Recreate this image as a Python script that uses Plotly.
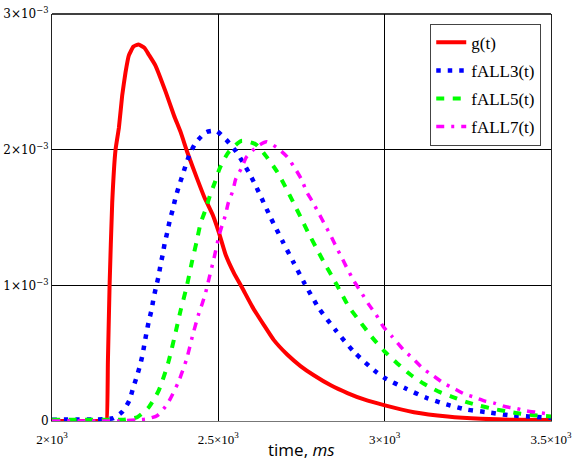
import plotly.graph_objects as go

# ---- data (values in units of 1e-3) ----
t_g = [2000, 2100, 2160, 2164, 2168, 2173, 2181, 2191, 2201, 2211, 2221, 2231, 2245, 2260,
       2278, 2291, 2311, 2342, 2367, 2387, 2407, 2437, 2457, 2483, 2502, 2522, 2547, 2572,
       2602, 2637, 2667, 2707, 2747, 2787, 2838, 2888, 2938, 2998, 3088, 3189, 3289, 3389, 3500]
v_g = [0, 0, 0, 0, 0.43, 0.99, 1.61, 2.0, 2.16, 2.40, 2.57, 2.695, 2.76, 2.776,
       2.75, 2.70, 2.62, 2.424, 2.25, 2.127, 1.979, 1.781, 1.655, 1.52, 1.387, 1.225, 1.09, 0.98,
       0.843, 0.707, 0.596, 0.49, 0.405, 0.337, 0.263, 0.206, 0.159, 0.117, 0.065, 0.033, 0.016, 0.009, 0.008]

t_f3 = [2000, 2124, 2154, 2184, 2212, 2233, 2243, 2254, 2264, 2272, 2278, 2284, 2291, 2299, 2305,
        2312, 2320, 2326, 2333, 2339, 2347, 2354, 2363, 2371, 2381, 2392, 2403, 2415, 2433, 2464,
        2493, 2524, 2552, 2573, 2593, 2611, 2628, 2658, 2692, 2726, 2760, 2802, 2853, 2909, 2970,
        3000, 3062, 3124, 3186, 3247, 3311, 3372, 3433, 3500]
v_f3 = [0.01, 0.011, 0.013, 0.021, 0.07, 0.154, 0.237, 0.321, 0.404, 0.486, 0.569, 0.65, 0.735, 0.817, 0.9,
        0.98, 1.063, 1.147, 1.23, 1.313, 1.396, 1.478, 1.559, 1.643, 1.727, 1.809, 1.893, 1.974, 2.054, 2.13,
        2.139, 2.072, 1.991, 1.91, 1.826, 1.741, 1.653, 1.496, 1.33, 1.169, 1.01, 0.832, 0.668, 0.506, 0.37,
        0.317, 0.241, 0.172, 0.122, 0.084, 0.064, 0.043, 0.033, 0.024]

t_f5 = [2000, 2176, 2216, 2256, 2291, 2321, 2350, 2372, 2387, 2405, 2420, 2435, 2447, 2462, 2474, 2490,
        2505, 2530, 2569, 2612, 2647, 2677, 2702, 2725, 2747, 2769, 2793, 2817, 2843, 2868, 2893,
        2926, 2961, 2998, 3038, 3078, 3118, 3160, 3201, 3244, 3284, 3327, 3369, 3409, 3449, 3500]
v_f5 = [0.01, 0.01, 0.01, 0.028, 0.102, 0.226, 0.435, 0.658, 0.819, 0.991, 1.165, 1.325, 1.46, 1.56, 1.655, 1.762,
        1.868, 1.979, 2.064, 2.04, 1.941, 1.836, 1.724, 1.613, 1.505, 1.394, 1.283, 1.172, 1.061, 0.95, 0.839,
        0.732, 0.62, 0.517, 0.424, 0.341, 0.274, 0.219, 0.18, 0.141, 0.114, 0.089, 0.07, 0.053, 0.043, 0.034]

t_f7 = [2000, 2136, 2196, 2256, 2287, 2317, 2347, 2380, 2405, 2422, 2442, 2452, 2462, 2472, 2487, 2502,
        2512, 2522, 2529, 2544, 2552, 2569, 2585, 2617, 2645, 2679, 2707, 2732, 2750, 2766, 2784, 2804,
        2820, 2840, 2853, 2873, 2888, 2908, 2928, 2953, 2973, 2996, 3023, 3056, 3083, 3116, 3145, 3178,
        3207, 3239, 3268, 3302, 3329, 3364, 3391, 3426, 3454, 3500]
v_f7 = [0.0, 0.0, 0.0, 0.009, 0.016, 0.041, 0.127, 0.287, 0.459, 0.624, 0.798, 0.868, 0.948, 1.05, 1.2, 1.366,
        1.448, 1.522, 1.6, 1.70, 1.781, 1.861, 1.947, 2.024, 2.058, 2.009, 1.947, 1.856, 1.781, 1.687, 1.613, 1.522,
        1.448, 1.356, 1.29, 1.195, 1.121, 1.03, 0.954, 0.856, 0.789, 0.695, 0.62, 0.526, 0.465, 0.385, 0.335, 0.278,
        0.241, 0.2, 0.177, 0.147, 0.132, 0.105, 0.095, 0.075, 0.065, 0.05]

names = ["g(t)", "fALL3(t)", "fALL5(t)", "fALL7(t)"]

x_ticks = [2000, 2500, 3000, 3500]
x_ticktext = ["2×10<sup>3</sup>", "2.5×10<sup>3</sup>", "3×10<sup>3</sup>", "3.5×10<sup>3</sup>"]
y_ticks = [0, 1e-3, 2e-3, 3e-3]
y_ticktext = ["0", "1×10<sup>−3</sup>", "2×10<sup>−3</sup>", "3×10<sup>−3</sup>"]

scale = 1e-3

fig = go.Figure()
series = [
    (t_g, v_g, "#FF0000", 4, "solid", 0.4),
    (t_f3, v_f3, "#0000FF", 4.5, "4.5px,7px", 0.6),
    (t_f5, v_f5, "#00FF00", 4, "8px,8.5px", 0.6),
    (t_f7, v_f7, "#FF00FF", 3.5, "8px,7px,3px,7px", 0.6),
]
for i, (tt, vv, col, w, dash, sm) in enumerate(series):
    fig.add_trace(go.Scatter(
        x=tt, y=[v * scale for v in vv], mode="lines", name=names[i],
        legendgroup=names[i],
        line=dict(color=col, width=w, dash=dash, shape="spline", smoothing=sm),
    ))

fig.update_layout(
    width=574, height=461,
    margin=dict(l=52, r=23, t=14, b=40, autoexpand=False),
    paper_bgcolor="white", plot_bgcolor="white",
    showlegend=True,
    legend=dict(
        x=0.758, y=0.976, xanchor="left", yanchor="top",
        bgcolor="white", bordercolor="#444", borderwidth=1,
        font=dict(family="Liberation Serif", size=17, color="black"),
        tracegroupgap=3, traceorder="grouped",
    ),
    xaxis=dict(
        range=[2000, 3500], tickvals=x_ticks, ticktext=x_ticktext,
        showgrid=True, gridcolor="black", gridwidth=1,
        showline=True, linecolor="#777", linewidth=1, mirror=False,
        ticks="", zeroline=False, automargin=False, ticklabelstandoff=6,
        tickfont=dict(family="Liberation Serif", size=13, color="black"),
    ),
    yaxis=dict(
        range=[0, 3e-3], tickvals=y_ticks, ticktext=y_ticktext,
        showgrid=True, gridcolor="black", gridwidth=1,
        showline=True, linecolor="#222", linewidth=1, mirror=True,
        ticks="", zeroline=False, automargin=False,
        tickfont=dict(family="DejaVu Serif", size=12, color="black"),
    ),
    shapes=[dict(type="line", xref="paper", yref="paper", x0=0, x1=1, y0=1, y1=1,
                 line=dict(color="black", width=1.5))],
    annotations=[dict(
        text="time, <i>ms</i>", x=0.5, y=0, xref="paper", yref="paper",
        xanchor="center", yanchor="middle", yshift=-28, showarrow=False,
        borderpad=0,
        font=dict(family="Open Sans", size=17, color="black"),
    )],
)

fig.write_html("out.html", config={"displayModeBar": False},
               post_script="document.body.style.margin='0';document.body.style.overflow='hidden';")
